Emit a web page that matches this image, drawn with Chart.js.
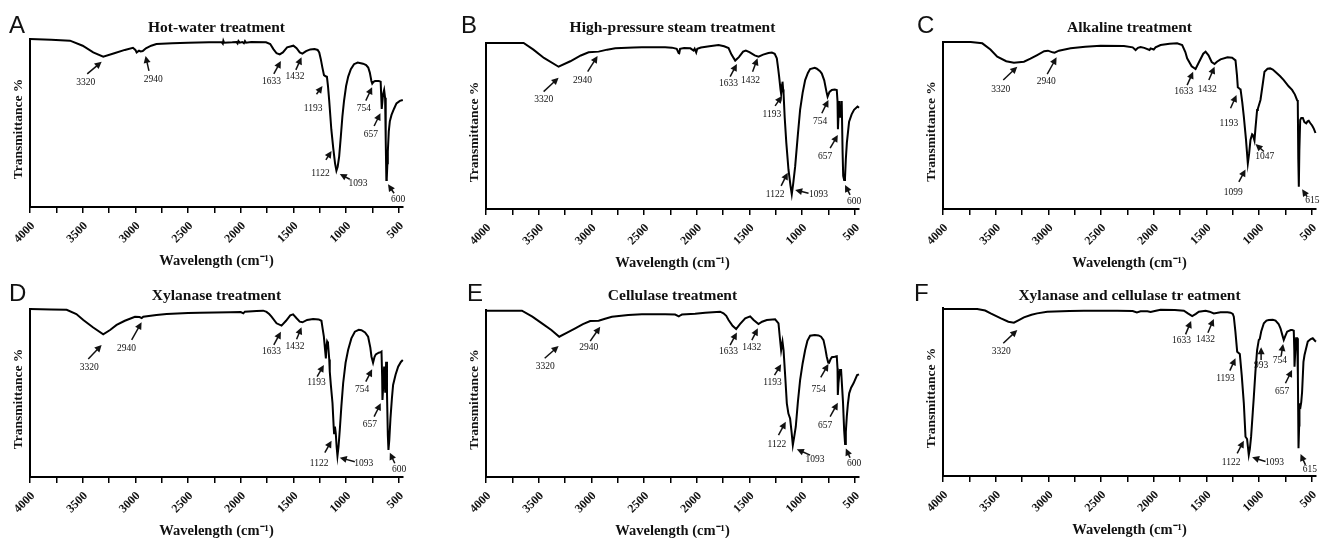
<!DOCTYPE html>
<html>
<head>
<meta charset="utf-8">
<script src="https://cdn.jsdelivr.net/npm/chart.js@4.4.1/dist/chart.umd.min.js"></script>
<style>
  html, body { margin: 0; padding: 0; background: #fff; overflow: hidden; }
  #wrap { position: relative; width: 1326px; height: 538px; overflow: hidden; }
  .panel { position: absolute; }
</style>
</head>
<body>
<div id="wrap"></div>
<script>
"use strict";

// ── Data (wavenumber cm-1, relative transmittance) ─────────────────── //
const xTicks      = [500, 750, 1000, 1250, 1500, 1750, 2000, 2250, 2500, 2750, 3000, 3250, 3500, 3750, 4000];
const xTickLabels = [500, 1000, 1500, 2000, 2500, 3000, 3500, 4000];

const hotWater = [
  [4000,100],[3800,99.6],[3620,99],[3500,96],[3400,92],[3305,89.5],[3200,91.5],[3100,93.5],[3023,94.8],
  [3000,93.5],[2988,92],[2965,93],[2950,92.6],[2930,92.8],[2900,94.5],[2850,96],[2800,97],[2650,97.5],
  [2500,97.8],[2300,98],[2180,98],[2170,97.2],[2165,98.9],[2158,97.8],[2080,98],[2040,98.2],[2030,97.4],
  [2022,98.8],[2010,97.8],[1985,98.2],[1970,97.5],[1960,98.8],[1950,97.8],[1900,98.2],[1760,98],[1720,97],
  [1690,94],[1660,91.5],[1630,90.8],[1600,92],[1560,95],[1500,96],[1470,94.5],[1440,92],[1415,91.3],
  [1380,92.8],[1340,93.8],[1300,94],[1270,93.5],[1255,92],[1240,88],[1225,83],[1210,78.5],[1195,77.8],
  [1182,77.5],[1172,72],[1160,63],[1140,46],[1122,35],[1105,26],[1092,21.6],[1080,24],[1066,30],
  [1050,42],[1035,54],[1020,63],[1000,72],[980,77.6],[955,82],[925,85],[890,86],[860,85.6],[839,85.3],
  [810,84.5],[790,83],[775,80],[760,75],[752,73.5],[740,74.5],[725,75],[690,75],[672,74.6],[666,65],
  [662,58.4],[655,63],[649,67.1],[639,69.6],[630,65],[626,61.7],[622,40],[618,16],[614,17],[608,26],
  [604,33],[595,45],[585,51],[569,54.8],[545,58.5],[522,61.7],[490,63.2],[462,63.7]
];

const highPressureSteam = [
  [4000,100],[3800,100],[3643,100],[3550,96],[3450,91],[3311,85.7],[3200,89],[3100,92.5],[3026,94.4],
  [2931,94.8],[2850,96],[2773,96.8],[2600,97.3],[2520,97.4],[2300,97.4],[2236,97.2],[2190,96.5],
  [2172,94],[2166,93.8],[2158,96.5],[2120,97],[2060,96.8],[2030,95.5],[2020,96.6],[2005,94.3],
  [1995,96.5],[1960,97.3],[1880,98],[1793,98.8],[1740,98],[1698,97],[1670,93],[1635,89.4],[1600,91.5],
  [1560,94.8],[1534,95.5],[1500,94.5],[1450,92.5],[1413,91.8],[1370,93],[1320,94],[1287,94.2],
  [1260,93.5],[1240,90.8],[1228,85],[1218,79.7],[1205,72],[1199,69.3],[1190,75],[1186,76.7],[1180,72],
  [1176,69.7],[1165,55],[1150,40],[1129,23.5],[1110,14],[1098,8.9],[1085,15],[1066,25.5],[1040,45],
  [1019,59.7],[995,70],[971,77.7],[945,82],[924,84.3],[880,85],[860,84.5],[830,83],[813,81.6],
  [790,77.5],[770,71],[758,67.7],[740,70.5],[718,71.7],[690,72],[671,71.7],[664,65],[660,48],
  [652,60],[645,65],[638,55],[630,62],[624,65],[616,35],[610,20],[601,17.5],[593,18.5],[585,30],
  [575,40],[554,52.6],[530,57],[507,59.7],[474,61.7],[460,61]
];

const alkaline = [
  [4000,100],[3850,100],[3737,100],[3627,99.2],[3550,95.5],[3485,91.2],[3400,88.5],[3327,87.6],
  [3232,88.2],[3170,90],[3106,92.2],[3040,94.5],[3004,94.8],[2960,93.8],[2941,93.6],[2900,94.8],
  [2789,96.2],[2650,97.2],[2504,97.8],[2283,97.6],[2200,96.8],[2172,95.2],[2150,96.5],[2125,97],
  [2090,96.5],[2040,95.2],[2030,96.2],[2000,95.5],[1983,96.8],[1935,98.2],[1850,99],[1778,99.2],
  [1730,98.2],[1700,94],[1683,90.2],[1640,85.5],[1603,83.8],[1570,88],[1530,93],[1508,94.2],
  [1480,92],[1450,88],[1423,86.8],[1400,88.2],[1366,89.6],[1300,90.8],[1256,90.6],[1224,89],
  [1210,80],[1202,72.9],[1185,72],[1176,71.6],[1160,64],[1145,55.3],[1125,42],[1107,27.3],[1095,33],
  [1082,41.3],[1066,44.8],[1060,44.5],[1044,40.9],[1035,48],[1019,59.3],[1012,60],[987,65.3],
  [965,75],[949,82.2],[920,84],[895,84.2],[870,83.5],[844,82],[800,79.5],[766,77.2],[720,73.5],
  [687,71.3],[660,68.5],[640,65.3],[633,64.5],[628,30],[623,13.3],[618,35],[610,53.3],[600,54.5],
  [585,54.5],[570,52],[553,51.3],[540,52.5],[529,52.8],[515,51.5],[497,50],[480,48],[465,45.5]
];

const xylanase = [
  [4000,100],[3800,99.7],[3652,99.5],[3560,97],[3494,93.5],[3400,89],[3305,84.9],[3240,87.5],
  [3178,90.5],[3100,93],[3004,95.4],[2960,95.2],[2940,94.6],[2925,95.4],[2800,96.4],[2703,97],
  [2500,97.6],[2388,97.8],[2100,98],[2000,98.2],[1975,97.4],[1961,98.4],[1850,98.8],[1787,99],
  [1755,98.3],[1730,97],[1708,95.5],[1660,91.5],[1613,90.1],[1570,93],[1530,96.2],[1503,96.8],
  [1470,94.5],[1440,92.5],[1414,92.1],[1370,93.5],[1313,94.1],[1260,93.8],[1234,93],[1222,88],
  [1211,83.5],[1200,76],[1192,70.6],[1186,78],[1180,80.6],[1172,79.5],[1160,70],[1155,62.7],
  [1145,55],[1129,43.9],[1118,30],[1114,26],[1106,30],[1098,26],[1090,18],[1082,12.5],[1072,18],
  [1060,28],[1045,42],[1028,55.8],[1005,68],[981,75.6],[950,82.5],[917,86.5],[880,87.6],[854,87.4],
  [820,86],[791,83.5],[770,77],[759,71.6],[744,68],[730,71.5],[718,73],[690,74],[671,74.3],
  [664,74.6],[658,60],[655,45.9],[647,55],[639,65.7],[634,60],[629,50.8],[624,60],[620,68.6],
  [612,50],[604,25],[598,16.1],[590,22],[579,34.9],[565,47],[554,54.8],[530,61],[506,65.7],
  [480,68.5],[462,69.6]
];

const cellulase = [
  [4000,99.6],[3800,99.6],[3659,99.6],[3560,96],[3469,92],[3380,88],[3305,84],[3230,86.5],
  [3153,89],[3080,91.5],[3011,93.4],[2931,93.6],[2870,94.8],[2805,96],[2650,97],[2520,97.4],
  [2300,97.5],[2205,97.3],[2170,96.2],[2150,97],[2141,97.3],[2015,97.7],[1920,98.4],[1778,99],
  [1746,98],[1720,96.5],[1698,94],[1660,90.5],[1626,88.6],[1590,91.5],[1540,95],[1493,96.2],
  [1460,94],[1414,91.6],[1380,93],[1335,94],[1256,94.4],[1224,92],[1212,84],[1199,76],[1186,81],
  [1176,76],[1160,60],[1145,44.1],[1130,38],[1114,35.1],[1100,27],[1088,19.1],[1075,24],[1060,30.1],
  [1040,45],[1019,58],[995,68],[971,76],[950,81.5],[924,84.6],[880,85],[844,84.8],[820,84],
  [797,82],[780,77],[766,72],[752,68.5],[744,68.4],[730,70.5],[718,71.7],[690,72],[671,72.3],
  [664,65],[661,49.1],[655,56],[649,60],[640,64],[630,64],[623,64],[612,45],[601,28.1],[592,19.7],
  [585,27],[576,36.1],[565,44],[553,50.1],[535,53.5],[512,56.1],[478,61],[460,61.5]
];

const xylanaseCellulase = [
  [4000,99.4],[3800,99.4],[3675,99.4],[3600,98.5],[3548,96.8],[3450,93.8],[3380,91.8],[3327,91.3],
  [3280,92.8],[3232,94.4],[3160,96],[3106,96.8],[3011,97.8],[2800,98.2],[2663,98.4],[2347,98.4],
  [2200,98.2],[2160,97.4],[2125,98],[2060,98],[2030,97.6],[1990,98.2],[1935,99],[1800,98.8],
  [1714,98.4],[1676,96.8],[1635,95.2],[1600,96.5],[1572,97.8],[1508,98.4],[1470,97.8],[1430,96.8],
  [1366,97.4],[1300,97.4],[1271,97.2],[1250,96.5],[1240,94.8],[1225,86],[1208,74],[1183,72.6],
  [1165,60],[1145,43.3],[1129,23.4],[1114,22],[1098,12.5],[1088,16],[1076,23.4],[1060,38],
  [1050,47.2],[1035,62],[1019,75],[1003,81],[994,81.5],[980,86],[955,90.9],[930,92.5],[908,92.9],
  [870,93],[844,92.5],[815,90.5],[797,87.9],[780,84],[766,81],[750,83.5],[734,85.9],[700,86.9],
  [687,86.9],[671,86.5],[666,75],[664,65.1],[656,75],[649,82],[639,82],[632,60],[626,16.5],
  [620,30],[617,42.3],[607,41.3],[600,44],[592,50],[579,68],[569,72],[538,80],[510,81.5],
  [491,82],[470,80.5],[460,80]
];

// [label, tip cm-1, tip T, tail cm-1, tail T, text cm-1, text T]
const hotWaterPeaks = [
  ["3320",3320,86.5,3457,79.2,3472,74], ["2940",2903,89.9,2871,81,2830,75.6],
  ["1633",1619,86.9,1686,79.2,1707,75], ["1432",1423,89.1,1477,81.6,1486,77.6],
  ["1193",1224,72,1281,67.1,1313,58.4], ["1122",1138,33.4,1192,28,1243,20.1],
  ["1093",1060,19.7,965,16.5,886,14.1], ["754",753,71.3,813,63.3,832,58.8],
  ["657",674,55.8,734,48.2,766,42.9], ["600",602,13.5,545,8.2,507,4.2]
];
const highPressureSteamPeaks = [
  ["3320",3311,79.1,3453,70.7,3453,66.1], ["2940",2941,92.2,3035,82.7,3083,77.7],
  ["1633",1619,87.4,1683,79.7,1698,75.7], ["1432",1423,90.8,1470,82.7,1490,77.7],
  ["1193",1192,68.1,1256,62.1,1287,56.7], ["1122",1136,21.9,1199,13.9,1256,8.5],
  ["1093",1066,11.5,939,9.5,844,8.5], ["754",750,65.7,813,57.7,829,52.7],
  ["657",661,44.6,734,36.6,782,31.5], ["600",592,14.5,545,8.5,507,4.6]
];
const alkalinePeaks = [
  ["3320",3295,85.2,3428,77.2,3453,71.7], ["2940",2922,90.8,3011,80.8,3020,76.2],
  ["1633",1626,82.2,1683,74.2,1714,70.2], ["1432",1423,85.2,1477,77.2,1493,71.7],
  ["1193",1214,68.3,1271,60.3,1287,51.3], ["1099",1129,23.7,1192,16.3,1246,9.7],
  ["1047",1034,38.9,955,34.4,946,31.3], ["615",592,11.8,545,7.4,494,4.8]
];
const xylanasePeaks = [
  ["3320",3320,78.6,3447,70.3,3437,65.3], ["2940",2941,92.1,3035,81.6,3083,76.2],
  ["1633",1619,86.5,1686,78.6,1708,74.6], ["1432",1423,89.1,1470,82,1486,77.6],
  ["1193",1211,66.7,1275,59.7,1281,56.2], ["1122",1138,21.6,1202,14.5,1256,8.2],
  ["1093",1060,11.5,917,9.1,832,8.2], ["754",753,64.1,813,56.8,848,52.2],
  ["657",671,43.9,734,35.9,775,31], ["600",585,14.5,538,8.2,497,4.2]
];
const cellulasePeaks = [
  ["3320",3311,78.4,3443,71.1,3437,66], ["2940",2916,90,3011,81.4,3026,77.4],
  ["1633",1619,86.6,1683,79,1698,75], ["1432",1420,89,1477,82,1477,77.6],
  ["1193",1199,67.5,1262,61,1281,56.5], ["1122",1155,33.1,1224,25.1,1240,19.7],
  ["1093",1050,16.6,924,13.1,877,10.4], ["754",750,67.7,823,59.7,844,52.5],
  ["657",661,44.5,734,36.1,782,31.1], ["600",585,17.1,545,11.5,507,8.2]
];
const xylanaseCellulasePeaks = [
  ["3320",3295,86.9,3428,79,3447,74], ["1633",1645,92.3,1698,84.3,1736,80.4],
  ["1432",1430,93.5,1486,85.3,1508,81], ["1193",1224,70.1,1278,62.7,1319,58.2],
  ["993",981,76.6,981,69,981,65.5], ["754",772,78.6,791,71.4,804,68.6],
  ["657",687,63.1,750,55.2,782,50.2], ["1122",1145,21,1208,13.5,1265,8],
  ["1093",1066,11.2,939,8.6,854,8], ["615",607,13.1,560,6.6,519,3.6]
];

// ── Layout ─────────────────────────────────────────────────────────── //
const X_MIN = 460, X_MAX = 4000;
const PLOT_W = 373;
const PAD_L = 30, PAD_T = 40, PAD_R = 28, PAD_B = 63;
const SERIF = '"Liberation Serif", "Times New Roman", serif';

const panels = [
  { letter: "A", title: "Hot-water treatment",               series: hotWater,          peaks: hotWaterPeaks,          left: 30,  top: 39,  bottom: 207, letterDx: -21, titleGap: 7.5 },
  { letter: "B", title: "High-pressure steam treatment",     series: highPressureSteam, peaks: highPressureSteamPeaks, left: 486, top: 43,  bottom: 209, letterDx: -25, titleGap: 11.5 },
  { letter: "C", title: "Alkaline treatment",                series: alkaline,          peaks: alkalinePeaks,          left: 943, top: 42,  bottom: 209, letterDx: -26, titleGap: 10.5 },
  { letter: "D", title: "Xylanase treatment",                series: xylanase,          peaks: xylanasePeaks,          left: 30,  top: 309, bottom: 477, letterDx: -21, titleGap: 9.5 },
  { letter: "E", title: "Cellulase treatment",               series: cellulase,         peaks: cellulasePeaks,         left: 486, top: 310, bottom: 477, letterDx: -19, titleGap: 10.5 },
  { letter: "F", title: "Xylanase and cellulase tr eatment", series: xylanaseCellulase, peaks: xylanaseCellulasePeaks, left: 943, top: 308, bottom: 476, letterDx: -29, titleGap: 8.5 }
];

// ── Plugins ────────────────────────────────────────────────────────── //
const panelText = {
  id: "panelText",
  afterDraw(chart, _args, opts) {
    const { ctx, chartArea: a } = chart;
    ctx.save();
    ctx.fillStyle = "#111";
    ctx.textBaseline = "alphabetic";

    ctx.font = '24px "Liberation Sans", Arial, sans-serif';
    ctx.textAlign = "left";
    ctx.fillText(opts.letter, a.left + opts.letterDx, a.top - opts.titleGap + 1.5);

    ctx.font = "bold 15.5px " + SERIF;
    ctx.textAlign = "center";
    ctx.fillText(opts.title, (a.left + a.right) / 2, a.top - opts.titleGap);

    ctx.translate(a.left - 11.5, (a.top + a.bottom) / 2 + 6);
    ctx.rotate(-Math.PI / 2);
    ctx.font = "bold 13.5px " + SERIF;
    ctx.textBaseline = "middle";
    ctx.fillText("Transmittance %", 0, 0);
    ctx.restore();
  }
};

const peakArrows = {
  id: "peakArrows",
  afterDatasetsDraw(chart, _args, opts) {
    const { ctx, scales: { x, y } } = chart;
    ctx.save();
    ctx.strokeStyle = "#111";
    ctx.fillStyle = "#111";
    ctx.lineWidth = 1.5;
    ctx.font = "9.5px " + SERIF;
    ctx.textAlign = "center";
    ctx.textBaseline = "middle";
    opts.peaks.forEach(([label, tw, tt, bw, bt, lw, lt]) => {
      const tx = x.getPixelForValue(tw), ty = y.getPixelForValue(tt);
      const bx = x.getPixelForValue(bw), by = y.getPixelForValue(bt);
      const len = Math.hypot(tx - bx, ty - by) || 1;
      const ux = (tx - bx) / len, uy = (ty - by) / len;
      const head = 7, half = 3.5;
      ctx.beginPath();
      ctx.moveTo(bx, by);
      ctx.lineTo(tx - ux * head * 0.8, ty - uy * head * 0.8);
      ctx.stroke();
      ctx.beginPath();
      ctx.moveTo(tx, ty);
      ctx.lineTo(tx - ux * head - uy * half, ty - uy * head + ux * half);
      ctx.lineTo(tx - ux * head + uy * half, ty - uy * head - ux * half);
      ctx.closePath();
      ctx.fill();
      ctx.fillText(label, x.getPixelForValue(lw), y.getPixelForValue(lt));
    });
    ctx.restore();
  }
};

// ── Build panels ───────────────────────────────────────────────────── //
const wrap = document.getElementById("wrap");

function makePanel(p) {
  const div = document.createElement("div");
  div.className = "panel";
  div.style.left = (p.left - PAD_L) + "px";
  div.style.top = (p.top - PAD_T) + "px";
  div.style.width = (PLOT_W + PAD_L + PAD_R) + "px";
  div.style.height = (p.bottom - p.top + PAD_T + PAD_B) + "px";
  const canvas = document.createElement("canvas");
  div.appendChild(canvas);
  wrap.appendChild(div);

  new Chart(canvas, {
    type: "line",
    data: {
      datasets: [{
        data: p.series.map(([wn, t]) => ({ x: wn, y: t })),
        borderColor: "#000",
        borderWidth: 2,
        pointRadius: 0,
        tension: 0,
        fill: false,
        clip: false
      }]
    },
    options: {
      responsive: true,
      maintainAspectRatio: false,
      animation: false,
      events: [],
      layout: { padding: { left: 0, top: PAD_T, right: PAD_R, bottom: 0 } },
      plugins: {
        legend: { display: false },
        tooltip: { enabled: false },
        panelText: { letter: p.letter, title: p.title, letterDx: p.letterDx, titleGap: p.titleGap },
        peakArrows: { peaks: p.peaks }
      },
      scales: {
        x: {
          type: "linear",
          reverse: true,
          min: X_MIN,
          max: X_MAX,
          afterFit: s => { s.height = PAD_B; },
          afterBuildTicks: s => { s.ticks = xTicks.map(v => ({ value: v })); },
          ticks: {
            autoSkip: false,
            minRotation: 45,
            maxRotation: 45,
            padding: 6,
            labelOffset: 3,
            color: "#111",
            font: { family: SERIF, size: 12, weight: "bold" },
            callback: v => xTickLabels.includes(v) ? String(v) : ""
          },
          grid: { display: true, drawOnChartArea: false, drawTicks: true, tickLength: 6, color: "#000", lineWidth: 1.5 },
          border: { display: true, color: "#000", width: 2 },
          title: {
            display: true,
            text: "Wavelength (cm\u207B\u00B9)",
            color: "#111",
            font: { family: SERIF, size: 14.5, weight: "bold" },
            padding: { top: 0, bottom: 0 }
          }
        },
        y: {
          min: 0,
          max: 100,
          afterFit: s => { s.width = PAD_L; },
          ticks: { display: false },
          grid: { display: true, drawOnChartArea: false, drawTicks: false },
          border: { display: true, color: "#000", width: 2 }
        }
      }
    },
    plugins: [panelText, peakArrows]
  });
}

panels.forEach(makePanel);
</script>
</body>
</html>
